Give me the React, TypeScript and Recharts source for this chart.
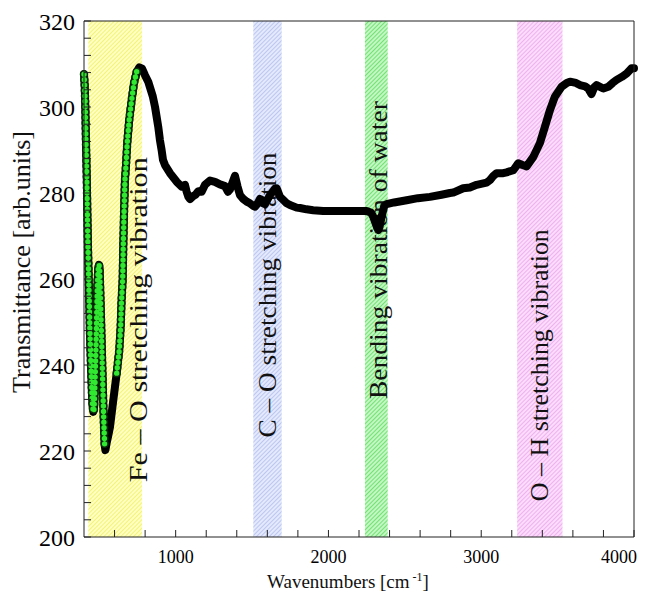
import React from 'react';
import {
  ComposedChart,
  Line,
  XAxis,
  YAxis,
  ReferenceArea,
} from 'recharts';

// FTIR spectrum
const wavenumbers = [
  400, 405, 409, 413, 418, 422, 426, 431, 435, 439, 446, 452, 456, 461, 466, 472, 478, 483, 487, 494,
  498, 502, 507, 512, 518, 524, 530, 535, 540, 548, 560, 570, 592, 614, 631, 640, 646, 653, 657, 662,
  668, 675, 683, 696, 712, 727, 745, 762, 780, 799, 821, 850, 865, 886, 897, 908, 917, 930, 963, 1007,
  1039, 1061, 1072, 1083, 1094, 1115, 1130, 1148, 1170, 1192, 1225, 1257, 1290, 1323, 1342, 1355, 1388, 1405, 1421, 1443,
  1465, 1486, 1508, 1519, 1535, 1552, 1563, 1573, 1585, 1617, 1650, 1661, 1683, 1704, 1727, 1748, 1792, 1814, 1857, 1900,
  1966, 2075, 2185, 2250, 2280, 2293, 2310, 2320, 2327, 2335, 2348, 2365, 2381, 2430, 2512, 2586, 2664, 2740, 2795, 2817,
  2882, 2926, 2970, 3035, 3057, 3080, 3101, 3144, 3166, 3210, 3242, 3270, 3297, 3341, 3384, 3417, 3450, 3482, 3526, 3560,
  3581, 3620, 3646, 3680, 3700, 3722, 3740, 3755, 3799, 3832, 3860, 3886, 3920, 3952, 3984, 4000,
];
const transmittance = [
  307.6, 304.7, 299.3, 291.6, 283.8, 275.3, 267.5, 259.8, 254.0, 247.4, 239.6, 233.5, 230.5, 229.1, 229.8, 235.8, 243.5, 251.2, 258.1, 262.8,
  263.3, 262.6, 256.5, 250.0, 242.0, 234.0, 226.5, 221.5, 220.2, 221.8, 223.8, 225.6, 231.9, 238.1, 243.5, 248.9, 255.1, 259.8, 267.5, 275.3,
  283.0, 286.5, 291.6, 297.0, 301.6, 305.5, 308.2, 309.2, 308.9, 307.4, 305.8, 302.5, 300.0, 295.4, 292.3, 290.0, 287.7, 286.5, 284.6, 282.6,
  281.5, 281.9, 280.3, 279.1, 278.6, 279.3, 279.6, 280.4, 280.3, 281.9, 282.9, 282.6, 282.0, 281.6, 280.3, 280.8, 284.0, 281.5, 279.5, 278.6,
  278.0, 277.6, 277.0, 276.8, 277.5, 278.6, 278.4, 277.6, 277.4, 279.5, 281.0, 281.1, 279.1, 278.4, 277.6, 277.2, 276.6, 276.5, 276.2, 276.0,
  275.8, 275.8, 275.8, 275.8, 275.4, 274.5, 272.8, 271.8, 271.4, 272.2, 274.5, 277.0, 277.4, 277.8, 278.3, 278.8, 279.1, 279.6, 280.0, 280.1,
  281.1, 281.3, 281.9, 282.4, 283.0, 284.0, 284.6, 284.6, 284.8, 285.3, 286.9, 286.5, 286.2, 288.4, 291.6, 295.4, 299.3, 302.4, 304.7, 305.6,
  305.9, 305.6, 305.1, 304.8, 304.3, 303.0, 304.6, 305.1, 304.3, 304.7, 305.6, 306.3, 307.0, 307.8, 309.0, 309.0,
];

const xTicks = [600, 800, 1000, 1200, 1400, 1600, 1800, 2000, 2200, 2400, 2600, 2800, 3000, 3200, 3400, 3600, 3800, 4000];
const yTicks = [
  200, 204, 208, 212, 216, 220, 224, 228, 232, 236, 240, 244, 248, 252, 256, 260,
  264, 268, 272, 276, 280, 284, 288, 292, 296, 300, 304, 308, 312, 316, 320,
];

// absorption bands
const bandStart = [428, 1508, 2239, 3235];
const bandEnd = [780, 1694, 2388, 3532];
const bandLabels = [
  'Fe \u2013 O stretching vibration',
  'C \u2013 O stretching vibration',
  'Bending vibration of  water',
  'O \u2013 H stretching vibration',
];

const SERIF = '"Liberation Serif", "Times New Roman", serif';
const hatch = [
  { id: 'hatchYellow', bg: '#ffffc4', line: '#eeee55' },
  { id: 'hatchBlue', bg: '#e4e9fb', line: '#a9b9ef' },
  { id: 'hatchGreen', bg: '#c4f5c4', line: '#4cdd4c' },
  { id: 'hatchPink', bg: '#fbdcfb', line: '#eb9eeb' },
];
// where the label sits inside each band (fraction of band width / plot height)
const labelPosX = [0.93, 0.5, 0.6, 0.5];
const labelPosY = [0.579, 0.531, 0.444, 0.667];
const labelLength = [325, 285, 298, 272];

// points where the individual markers stay visible (steep parts)
const data = wavenumbers.map((w, i) => ({
  w,
  t: transmittance[i],
  g: w <= 535 || (w >= 600 && w <= 750) ? transmittance[i] : null,
}));

const bandLabel = (i: number) => (props: any) => {
  const vb = props.viewBox || { x: 0, y: 0, width: 0, height: 0 };
  const cx = vb.x + vb.width * labelPosX[i];
  const cy = vb.y + vb.height * labelPosY[i];
  return (
    <text
      x={cx}
      y={cy}
      transform={`rotate(-90 ${cx} ${cy})`}
      textAnchor="middle"
      dominantBaseline="central"
      fontFamily={SERIF}
      fontSize={26}
      textLength={labelLength[i]}
      lengthAdjust="spacingAndGlyphs"
      fill="#111"
    >
      {bandLabels[i]}
    </text>
  );
};

// bottom tick: the last label is pulled inside so it is not cut by the edge
const XTick = (props: any) => {
  const { x, y, payload } = props;
  const v = payload.value;
  if (v % 1000 !== 0) return null;
  const last = v === xTicks[xTicks.length - 1];
  return (
    <text
      x={last ? x + 3 : x}
      y={y}
      dy={11}
      textAnchor={last ? 'end' : 'middle'}
      fontFamily={SERIF}
      fontSize={18}
      fill="#000"
    >
      {v}
    </text>
  );
};

export default function App() {
  return (
    <ComposedChart
      width={633}
      height={584}
      data={data}
      margin={{ top: 12, right: 6, bottom: 15, left: 20 }}
    >
      <defs>
        {hatch.map((h) => (
          <pattern
            key={h.id}
            id={h.id}
            width={3}
            height={3}
            patternUnits="userSpaceOnUse"
            patternTransform="rotate(45)"
          >
            <rect width={3} height={3} fill={h.bg} />
            <line x1={0} y1={0} x2={0} y2={3} stroke={h.line} strokeWidth={1.4} />
          </pattern>
        ))}
      </defs>

      {bandStart.map((b, i) => (
        <ReferenceArea
          key={i}
          x1={b}
          x2={bandEnd[i]}
          fill={`url(#${hatch[i].id})`}
          fillOpacity={1}
          stroke="none"
          label={bandLabel(i)}
        />
      ))}

      <XAxis
        dataKey="w"
        type="number"
        domain={[400, 4000]}
        ticks={xTicks}
        interval={0}
        height={40}
        stroke="#222"
        tickSize={-7}
        tickMargin={22}
        tick={<XTick />}
        label={{
          content: (p: any) => {
            const vb = p.viewBox || { x: 76, y: 529, width: 550 };
            const cx = vb.x + vb.width * 0.48;
            return (
              <text x={cx} y={vb.y + 51} textAnchor="middle" fontFamily={SERIF} fontSize={19} fill="#111">
                Wavenumbers [cm
                <tspan dy={-7} fontSize={12}> -1</tspan>
                <tspan dy={7}>]</tspan>
              </text>
            );
          },
        }}
      />
      <XAxis
        xAxisId="top"
        orientation="top"
        type="number"
        domain={[400, 4000]}
        ticks={xTicks}
        interval={0}
        height={1}
        stroke="#222"
        tickSize={-7}
        tickFormatter={() => ''}
      />
      <YAxis
        type="number"
        domain={[200, 320]}
        ticks={yTicks}
        interval={0}
        width={56}
        stroke="#222"
        tickSize={-7}
        tickMargin={16}
        tick={{ fill: '#000', fontFamily: SERIF, fontSize: 24 }}
        tickFormatter={(v) => (v % 20 === 0 ? String(v) : '')}
        label={{
          content: (p: any) => {
            const vb = p.viewBox || { x: 20, y: 13, height: 516 };
            const cx = vb.x - 6;
            const cy = vb.y + vb.height * 0.467;
            return (
              <text
                x={cx}
                y={cy}
                transform={`rotate(-90 ${cx} ${cy})`}
                textAnchor="middle"
                dominantBaseline="central"
                fontFamily={SERIF}
                fontSize={26}
                fill="#111"
              >
                Transmittance [arb.units]
              </text>
            );
          },
        }}
      />
      <YAxis
        yAxisId="right"
        orientation="right"
        type="number"
        domain={[200, 320]}
        ticks={yTicks}
        interval={0}
        width={1}
        stroke="#222"
        tickSize={-7}
        tickFormatter={() => ''}
      />

      <Line
        dataKey="t"
        type="linear"
        stroke="#000"
        strokeWidth={8}
        strokeLinejoin="round"
        strokeLinecap="round"
        dot={false}
        activeDot={false}
        isAnimationActive={false}
      />
      <Line
        dataKey="g"
        type="linear"
        stroke="#0a2a0a"
        strokeWidth={8.5}
        strokeDasharray="0 5.4"
        strokeLinecap="round"
        connectNulls={false}
        dot={false}
        activeDot={false}
        isAnimationActive={false}
      />
      <Line
        dataKey="g"
        type="linear"
        stroke="#2fe82f"
        strokeWidth={5.4}
        strokeDasharray="0 5.4"
        strokeLinecap="round"
        connectNulls={false}
        dot={false}
        activeDot={false}
        isAnimationActive={false}
      />
    </ComposedChart>
  );
}
